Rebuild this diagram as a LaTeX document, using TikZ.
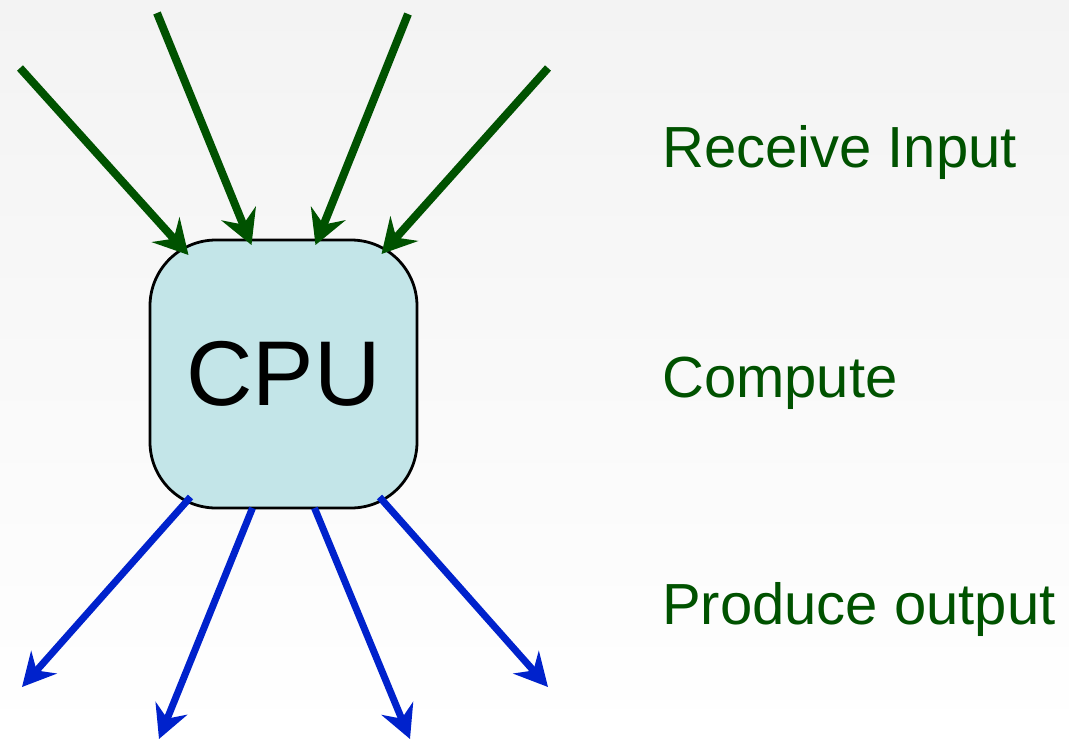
\documentclass[tikz,border=0pt]{standalone}
\usepackage{fontspec}
\setmainfont{Liberation Sans}
\usetikzlibrary{arrows.meta,calc}
\definecolor{ingreen}{RGB}{0,82,0}
\definecolor{outblue}{RGB}{0,34,204}
\definecolor{cpufill}{RGB}{195,229,232}
\definecolor{bgtop}{RGB}{243,243,243}
\tikzset{
  inarrow/.style={draw=ingreen, line width=8pt,
    -{Stealth[length=34pt, width=37pt, inset=12pt, fill=ingreen]}},
  outarrow/.style={draw=outblue, line width=7pt,
    -{Stealth[length=33pt, width=34pt, inset=11pt, fill=outblue]}},
  cpubox/.style={draw=black, line width=2.8pt, fill=cpufill,
    rounded corners=66pt, minimum width=267pt, minimum height=268pt,
    inner sep=0pt, font=\fontsize{92}{92}\selectfont},
  steplabel/.style={text=ingreen, anchor=base west, inner sep=0pt,
    font=\fontsize{58}{58}\selectfont}
}
\begin{document}
\begin{tikzpicture}[x=1pt, y=-1pt]
  % page background
  \shade[top color=bgtop, bottom color=white] (0,0) rectangle (1069,739);
  \useasboundingbox (0,0) rectangle (1069,739);

  % processor
  \node[cpubox] (cpu) at (283.5,374) {CPU};

  % input sources and landing points on the box
  \coordinate (i1) at (20,68);
  \coordinate (i2) at (157,13);
  \coordinate (i3) at (408,14);
  \coordinate (i4) at (548,68);
  \coordinate (a1) at ($(cpu.center)+(-95,-119)$);
  \coordinate (a2) at ($(cpu.center)+(-32,-129)$);
  \coordinate (a3) at ($(cpu.center)+(32,-129)$);
  \coordinate (a4) at ($(cpu.center)+(98,-120)$);

  % output targets and starting points on the box
  \coordinate (b1) at ($(cpu.center)+(-93,123)$);
  \coordinate (b2) at ($(cpu.center)+(-31,134)$);
  \coordinate (b3) at ($(cpu.center)+(31,134)$);
  \coordinate (b4) at ($(cpu.center)+(96,123)$);
  \coordinate (o1) at (22,687);
  \coordinate (o2) at (159,739);
  \coordinate (o3) at (410,739);
  \coordinate (o4) at (548,687);

  \foreach \k in {1,...,4} {
    \draw[inarrow] (i\k) -- (a\k);
    \draw[outarrow] (b\k) -- (o\k);
  }

  % step labels
  \node[steplabel] (recv) at (662,167) {Receive Input};
  \node[steplabel] (comp) at (662,397) {Compute};
  \node[steplabel] (prod) at (662,624) {Produce output};
\end{tikzpicture}
\end{document}
